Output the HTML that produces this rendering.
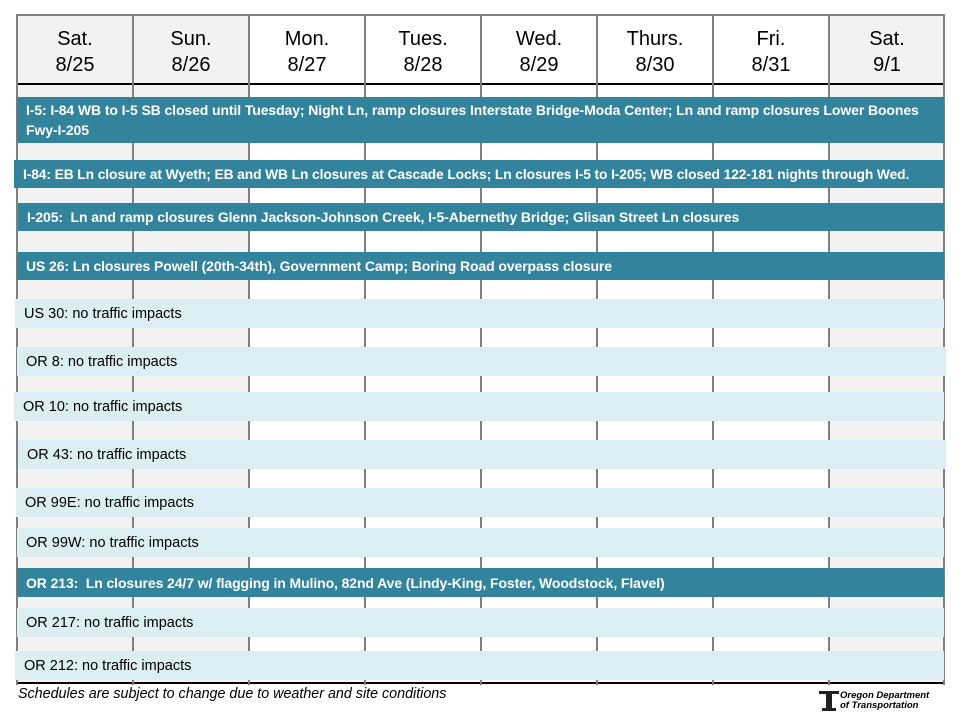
<!DOCTYPE html>
<html><head><meta charset="utf-8"><style>
body{margin:0;width:960px;height:720px;background:#fff;position:relative;overflow:hidden;font-family:"Liberation Sans",sans-serif}
.a{position:absolute}
.col{position:absolute;top:15px;height:668px;width:116px}
.vl{position:absolute;top:15px;height:670px;width:2px;background:#7f7f7f}
.hd{position:absolute;top:15px;height:69px;width:116px;text-align:center;font-size:20px;line-height:26px;padding-top:11px;box-sizing:border-box;color:#000}
.bar{position:absolute;box-sizing:border-box;padding-left:9px;font-size:14.5px;display:flex;align-items:center;white-space:nowrap}
.d{background:#31849b;color:#fff;font-weight:bold;font-size:14px;letter-spacing:-0.1px}
.l{background:#dbeef4;color:#000}
</style></head><body>
<div class="col" style="left:17px;background:#f2f2f2"></div>
<div class="col" style="left:133px;background:#f2f2f2"></div>
<div class="col" style="left:829px;background:#f2f2f2"></div>
<div class="a" style="left:16px;top:14px;width:929px;height:2px;background:#7f7f7f"></div>
<div class="a" style="left:16px;top:83px;width:929px;height:2px;background:#000"></div>
<div class="a" style="left:16px;top:682px;width:929px;height:2px;background:#000"></div>
<div class="vl" style="left:16px"></div><div class="vl" style="left:132px"></div><div class="vl" style="left:248px"></div><div class="vl" style="left:364px"></div><div class="vl" style="left:480px"></div><div class="vl" style="left:596px"></div><div class="vl" style="left:712px"></div><div class="vl" style="left:828px"></div><div class="vl" style="left:943px"></div>
<div class="hd" style="left:17px">Sat.<br>8/25</div>
<div class="hd" style="left:133px">Sun.<br>8/26</div>
<div class="hd" style="left:249px">Mon.<br>8/27</div>
<div class="hd" style="left:365px">Tues.<br>8/28</div>
<div class="hd" style="left:481px">Wed.<br>8/29</div>
<div class="hd" style="left:597px">Thurs.<br>8/30</div>
<div class="hd" style="left:713px">Fri.<br>8/31</div>
<div class="hd" style="left:829px">Sat.<br>9/1</div>

<div class="bar d" style="left:17px;top:97px;width:927px;height:46px;white-space:normal;line-height:20px;padding-right:10px">I-5: I-84 WB to I-5 SB closed until Tuesday; Night Ln, ramp closures Interstate Bridge-Moda Center; Ln and ramp closures Lower Boones Fwy-I-205</div>
<div class="bar d" style="left:14px;top:160px;width:930px;height:28px;font-size:13.8px">I-84: EB Ln closure at Wyeth; EB and WB Ln closures at Cascade Locks; Ln closures I-5 to I-205; WB closed 122-181 nights through Wed.</div>
<div class="bar d" style="left:18px;top:203px;width:926px;height:28px">I-205: &nbsp;Ln and ramp closures Glenn Jackson-Johnson Creek, I-5-Abernethy Bridge; Glisan Street Ln closures</div>
<div class="bar d" style="left:17px;top:252px;width:927px;height:28px">US 26: Ln closures Powell (20th-34th), Government Camp; Boring Road overpass closure</div>
<div class="bar l" style="left:15px;top:299px;width:929px;height:29px">US 30: no traffic impacts</div>
<div class="bar l" style="left:17px;top:347px;width:929px;height:29px">OR 8: no traffic impacts</div>
<div class="bar l" style="left:14px;top:392px;width:930px;height:29px">OR 10: no traffic impacts</div>
<div class="bar l" style="left:18px;top:440px;width:928px;height:29px">OR 43: no traffic impacts</div>
<div class="bar l" style="left:16px;top:488px;width:928px;height:29px">OR 99E: no traffic impacts</div>
<div class="bar l" style="left:17px;top:528px;width:927px;height:29px">OR 99W: no traffic impacts</div>
<div class="bar d" style="left:17px;top:568px;width:927px;height:29px">OR 213: &nbsp;Ln closures 24/7 w/ flagging in Mulino, 82nd Ave (Lindy-King, Foster, Woodstock, Flavel)</div>
<div class="bar l" style="left:17px;top:608px;width:927px;height:29px">OR 217: no traffic impacts</div>
<div class="bar l" style="left:15px;top:651px;width:929px;height:29px">OR 212: no traffic impacts</div>

<div class="a" style="left:18px;top:686px;font-size:14.3px;font-style:italic">Schedules are subject to change due to weather and site conditions</div>
<svg class="a" style="left:818px;top:690px" width="22" height="22" viewBox="0 0 22 22"><path d="M1 1H21V4H14V18H18V21H4V18H8V4H1Z" fill="#222"/></svg>
<div class="a" style="left:840px;top:691px;font-size:9.5px;font-weight:bold;font-style:italic;line-height:10px">Oregon Department<br>of Transportation</div>
</body></html>
